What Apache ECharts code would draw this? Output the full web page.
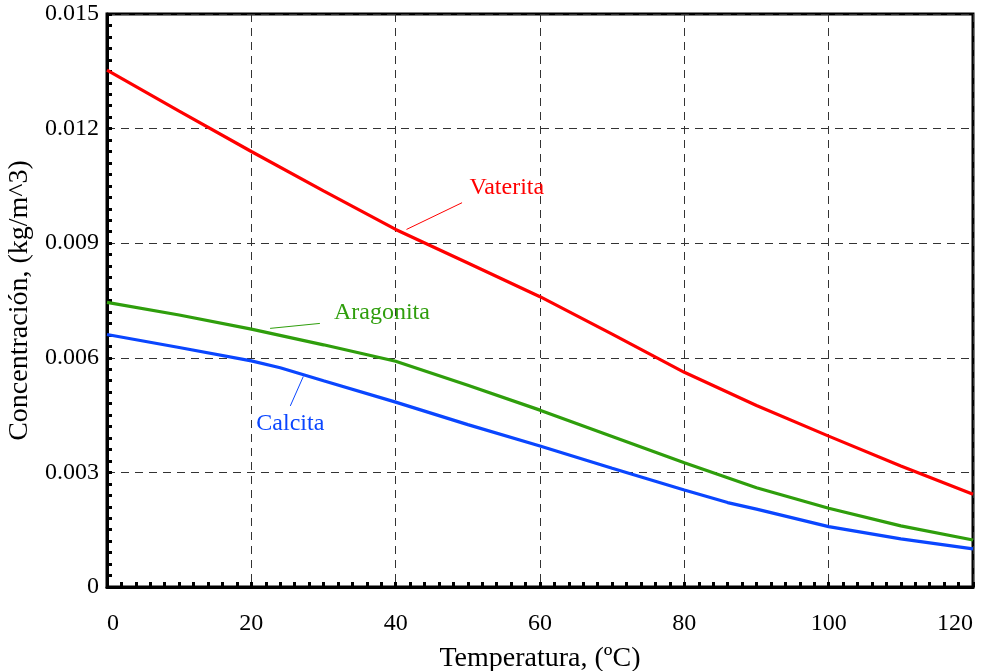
<!DOCTYPE html>
<html>
<head>
<meta charset="utf-8">
<script src="https://cdn.jsdelivr.net/npm/echarts@6/dist/echarts.min.js"></script>
<style>
  html, body { margin: 0; padding: 0; background: #fff; }
  #main { width: 987px; height: 671px; }
</style>
</head>
<body>
<div id="main"></div>
<script>
// 数据
var tempVaterita = [0, 10, 20, 30, 40, 50, 60, 70, 80, 90, 100, 110, 120];
var vaterita = [0.01353, 0.01246, 0.01140, 0.01037, 0.00936, 0.00848, 0.00760, 0.00662, 0.00562, 0.00475, 0.00395, 0.00317, 0.00243];

var tempAragonita = [0, 10, 20, 30, 40, 50, 60, 70, 80, 90, 100, 110, 120];
var aragonita = [0.00745, 0.00712, 0.00675, 0.00634, 0.00591, 0.00528, 0.00463, 0.00394, 0.00325, 0.00260, 0.00206, 0.00160, 0.00123];

var tempCalcita = [0, 10, 20, 24, 30, 40, 50, 60, 70, 80, 86, 90, 100, 110, 120];
var calcita = [0.00661, 0.00627, 0.00592, 0.00574, 0.00540, 0.00484, 0.00425, 0.00369, 0.00311, 0.00254, 0.00221, 0.00204, 0.00158, 0.00126, 0.00100];

// 标注：文字位置和引线（数据坐标）
var labelVaterita = [55.4, 0.01045];
var lineVaterita = [[41.5, 0.00936], [49.2, 0.01006]];
var labelAragonita = [38.1, 0.00717];
var lineAragonita = [[22.6, 0.00677], [29.5, 0.00690]];
var labelCalcita = [25.4, 0.00427];
var lineCalcita = [[27.2, 0.00551], [25.4, 0.00474]];

var FONT = 'Liberation Serif';

function pairs(xs, ys) {
    return xs.map(function (x, i) { return [x, ys[i]]; });
}

function makeSeries(name, xs, ys, color, labelPos, leader) {
    return {
        name: name,
        type: 'line',
        data: pairs(xs, ys),
        showSymbol: false,
        symbol: 'none',
        lineStyle: { color: color, width: 3.2 },
        markLine: {
            silent: true,
            symbol: 'none',
            label: { show: false },
            lineStyle: { color: color, width: 1, type: 'solid' },
            data: [[{ coord: leader[0] }, { coord: leader[1] }]]
        },
        markPoint: {
            silent: true,
            symbol: 'circle',
            symbolSize: 0,
            label: {
                show: true,
                position: 'inside',
                formatter: name,
                color: color,
                fontFamily: FONT,
                fontSize: 24
            },
            data: [{ coord: labelPos }]
        }
    };
}

var myChart = echarts.init(document.getElementById('main'));

var option = {
    animation: false,
    backgroundColor: '#fff',
    grid: {
        left: 107,
        right: 14,
        top: 14,
        bottom: 84,
        containLabel: false,
        outerBoundsMode: 'none',
        show: true,
        borderColor: '#000',
        borderWidth: 3
    },
    xAxis: {
        type: 'value',
        min: 0,
        max: 120,
        interval: 20,
        name: 'Temperatura, (ºC)',
        nameLocation: 'middle',
        nameGap: 58,
        nameTextStyle: { fontFamily: FONT, fontSize: 28, color: '#000' },
        axisLine: { show: true, lineStyle: { color: '#000', width: 3 } },
        axisTick: { show: true, inside: true, length: 5, lineStyle: { color: '#000', width: 3 } },
        minorTick: { show: true, splitNumber: 10, length: 5, lineStyle: { color: '#000', width: 3 } },
        axisLabel: {
            fontFamily: FONT, fontSize: 24, color: '#000', margin: 25,
            alignMinLabel: 'left', alignMaxLabel: 'right'
        },
        splitLine: { show: true, lineStyle: { color: '#333', width: 1, type: [8, 6] } }
    },
    yAxis: {
        type: 'value',
        min: 0,
        max: 0.015,
        interval: 0.003,
        name: 'Concentración, (kg/m^3)',
        nameLocation: 'middle',
        nameGap: 68,
        nameTextStyle: { fontFamily: FONT, fontSize: 28, color: '#000' },
        axisLine: { show: true, lineStyle: { color: '#000', width: 3 } },
        axisTick: { show: true, inside: true, length: 5, lineStyle: { color: '#000', width: 3 } },
        minorTick: { show: true, splitNumber: 10, length: 5, lineStyle: { color: '#000', width: 3 } },
        axisLabel: {
            fontFamily: FONT, fontSize: 24, color: '#000', margin: 8,
            padding: [10, 0, 0, 0],
            formatter: function (v) { return v === 0 ? '0' : v.toFixed(3); }
        },
        splitLine: { show: true, lineStyle: { color: '#333', width: 1, type: [8, 6] } }
    },
    series: [
        makeSeries('Vaterita', tempVaterita, vaterita, '#ff0000', labelVaterita, lineVaterita),
        makeSeries('Aragonita', tempAragonita, aragonita, '#2f9e0c', labelAragonita, lineAragonita),
        makeSeries('Calcita', tempCalcita, calcita, '#0a46ff', labelCalcita, lineCalcita)
    ]
};

myChart.setOption(option);
</script>
</body>
</html>
